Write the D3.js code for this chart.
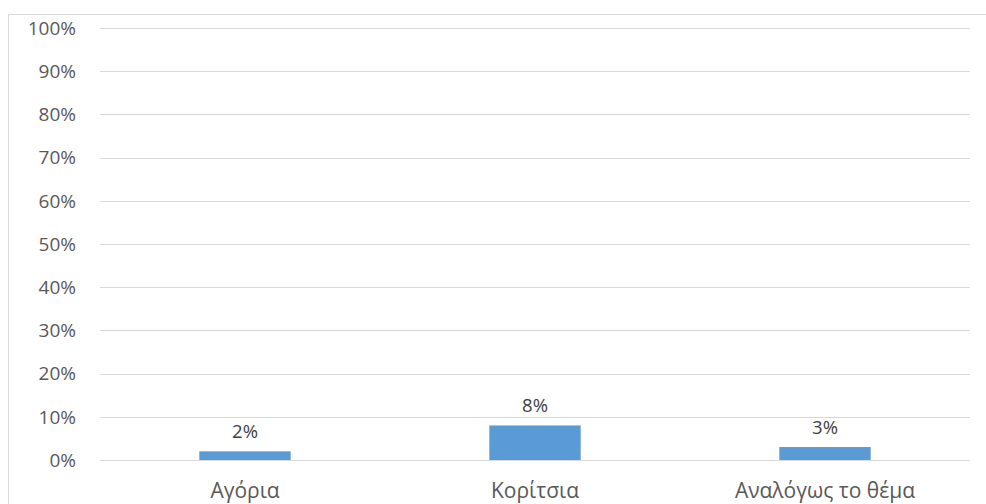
<!DOCTYPE html>
<html><head><meta charset="utf-8">
<script src="https://cdn.jsdelivr.net/npm/d3@7"></script>
<style>body{margin:0;background:#fff}svg{display:block}text{font-family:"Open Sans",sans-serif}</style>
</head><body><svg id="c" width="986" height="504"></svg>
<script>
const categories = ["Αγόρια", "Κορίτσια", "Αναλόγως το θέμα"];
const values = [2, 8, 3];
const yTicks = [0,10,20,30,40,50,60,70,80,90,100];

const svg = d3.select("#c");
const m = {left:100, right:16, top:28, bottom:44};
const W = 986, H = 504;
const x = d3.scaleBand().domain(categories).range([m.left, W - m.right]).padding(0);
const y = d3.scaleLinear().domain([0,100]).range([H - m.bottom, m.top]);

// outer frame
svg.append("line").attr("x1",8.5).attr("x2",W).attr("y1",14.5).attr("y2",14.5).attr("stroke","#d9d9d9");
svg.append("line").attr("x1",8.5).attr("x2",8.5).attr("y1",14.5).attr("y2",H).attr("stroke","#d9d9d9");

// grid
svg.append("g").selectAll("line").data(yTicks).join("line")
  .attr("x1", m.left).attr("x2", W - m.right)
  .attr("y1", d => Math.round(y(d))+0.5).attr("y2", d => Math.round(y(d))+0.5)
  .attr("stroke", "#d9d9d9").attr("stroke-width", 1);

// y labels
svg.append("g").selectAll("text").data(yTicks).join("text")
  .attr("x", 76).attr("y", d => y(d)).attr("dy","0.36em")
  .attr("text-anchor","end").attr("font-size",19).attr("fill","#595959")
  .text(d => d + "%");

const bw = x.bandwidth()*0.315;
svg.append("g").selectAll("rect").data(values).join("rect")
  .attr("x", (d,i) => x(categories[i]) + x.bandwidth()/2 - bw/2)
  .attr("width", bw)
  .attr("y", d => y(d)).attr("height", d => y(0) - y(d))
  .attr("fill", "#5b9bd5");

svg.append("g").selectAll("text").data(values).join("text")
  .attr("x", (d,i) => x(categories[i]) + x.bandwidth()/2)
  .attr("y", d => y(d) - 13)
  .attr("text-anchor","middle").attr("font-size",18.5).attr("fill","#404040")
  .text(d => d + "%");

svg.append("g").selectAll("text").data(categories).join("text")
  .attr("x", d => x(d) + x.bandwidth()/2)
  .attr("y", H - m.bottom + 38)
  .attr("text-anchor","middle").attr("font-size",21).attr("fill","#595959")
  .text(d => d);
</script></body></html>
